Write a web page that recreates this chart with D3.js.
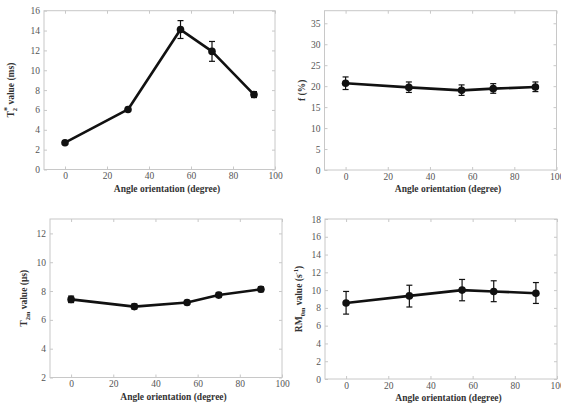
<!DOCTYPE html>
<html><head><meta charset="utf-8">
<script src="https://cdn.jsdelivr.net/npm/d3@7/dist/d3.min.js"></script>
<style>body{margin:0;background:#fff}svg{display:block}</style>
</head><body>
<svg id="c" width="561" height="407"></svg>
<script>
const angles = [0, 30, 55, 70, 90];
const xTicks = [0, 20, 40, 60, 80, 100];

const t2sMean = [2.7, 6.05, 14.1, 11.9, 7.55];
const t2sLow  = [2.55, 5.85, 13.2, 10.9, 7.25];
const t2sHigh = [2.85, 6.25, 15.0, 12.9, 7.85];
const t2sTicks = [0, 2, 4, 6, 8, 10, 12, 14, 16];

const fMean = [20.7, 19.7, 19.0, 19.4, 19.8];
const fLow  = [19.2, 18.5, 17.8, 18.3, 18.7];
const fHigh = [22.2, 21.0, 20.3, 20.6, 21.0];
const fTicks = [0, 5, 10, 15, 20, 25, 30, 35];

const t2mMean = [7.42, 6.92, 7.2, 7.72, 8.12];
const t2mLow  = [7.2, 6.75, 7.05, 7.55, 7.95];
const t2mHigh = [7.65, 7.1, 7.35, 7.9, 8.3];
const t2mTicks = [2, 4, 6, 8, 10, 12];

const rmMean = [8.55, 9.35, 10.0, 9.85, 9.65];
const rmLow  = [7.3, 8.1, 8.8, 8.7, 8.5];
const rmHigh = [9.85, 10.55, 11.2, 11.05, 10.85];
const rmTicks = [0, 2, 4, 6, 8, 10, 12, 14, 16, 18];

const svg = d3.select("#c");
const serif = "'Liberation Serif','Times New Roman',serif";

function panel(o) {
  const x = d3.scaleLinear().domain([-10, 100]).range([o.l, o.r]);
  const y = d3.scaleLinear().domain(o.yDom).range([o.b, o.t]);
  const g = svg.append("g");
  g.append("rect").attr("x", o.l).attr("y", o.t).attr("width", o.r - o.l).attr("height", o.b - o.t)
    .attr("fill", "none").attr("stroke", "#c8c8c8").attr("stroke-width", 1);
  const ax = g.append("g").attr("transform", `translate(0,${o.b})`)
    .call(d3.axisBottom(x).tickValues(xTicks).tickSize(-3).tickPadding(3).tickFormat(d3.format("d")));
  const axT = g.append("g").attr("transform", `translate(0,${o.t})`)
    .call(d3.axisTop(x).tickValues(xTicks).tickSize(-3).tickFormat(""));
  const ay = g.append("g").attr("transform", `translate(${o.l},0)`)
    .call(d3.axisLeft(y).tickValues(o.yTicks).tickSize(-3).tickPadding(4).tickFormat(d3.format("d")));
  const ayR = g.append("g").attr("transform", `translate(${o.r},0)`)
    .call(d3.axisRight(y).tickValues(o.yTicks).tickSize(-3).tickFormat(""));
  [ax, axT, ay, ayR].forEach(a => {
    a.select(".domain").remove();
    a.selectAll(".tick line").attr("stroke", "#c8c8c8");
    a.selectAll(".tick text").attr("fill", "#555").attr("font-family", serif).attr("font-size", 9.5);
  });
  g.append("text").attr("x", (x(0) + x(100)) / 2 - 3).attr("y", o.b + 22)
    .attr("text-anchor", "middle").attr("font-family", serif).attr("font-weight", "bold")
    .attr("font-size", 9.5).attr("fill", "#333").text("Angle orientation (degree)");
  const yl = g.append("text").attr("transform", `translate(${o.ylx},${(o.t + o.b) / 2}) rotate(-90)`)
    .attr("text-anchor", "middle").attr("font-family", serif).attr("font-weight", "bold")
    .attr("font-size", 9.5).attr("fill", "#333");
  o.label(yl);
  const eb = g.append("g").attr("stroke", "#111").attr("stroke-width", 1.2);
  angles.forEach((a, i) => {
    const cx = x(a);
    eb.append("line").attr("x1", cx).attr("x2", cx).attr("y1", y(o.lo[i])).attr("y2", y(o.hi[i]));
    eb.append("line").attr("x1", cx - 3).attr("x2", cx + 3).attr("y1", y(o.lo[i])).attr("y2", y(o.lo[i]));
    eb.append("line").attr("x1", cx - 3).attr("x2", cx + 3).attr("y1", y(o.hi[i])).attr("y2", y(o.hi[i]));
  });
  const line = d3.line().x((d, i) => x(angles[i])).y(d => y(d));
  g.append("path").datum(o.mean).attr("d", line).attr("fill", "none")
    .attr("stroke", "#111").attr("stroke-width", 2.6).attr("stroke-linejoin", "round");
  g.selectAll("circle.m").data(o.mean).enter().append("circle")
    .attr("cx", (d, i) => x(angles[i])).attr("cy", d => y(d)).attr("r", 3.8).attr("fill", "#111");
}

panel({l: 44, r: 275, t: 10.7, b: 169.5, yDom: [0, 16], yTicks: t2sTicks, ylx: 14,
  mean: t2sMean, lo: t2sLow, hi: t2sHigh,
  label: t => { t.append("tspan").text("T");
    t.append("tspan").attr("font-size", 6.5).attr("dy", 2.5).text("2");
    t.append("tspan").attr("font-size", 8).attr("dx", -3).attr("dy", -7).text("*");
    t.append("tspan").attr("dy", 4.5).text(" value (ms)"); }});

panel({l: 324.5, r: 556.5, t: 10.7, b: 170, yDom: [0, 38], yTicks: fTicks, ylx: 305,
  mean: fMean, lo: fLow, hi: fHigh,
  label: t => t.text("f (%)")});

panel({l: 50, r: 282, t: 219, b: 377.5, yDom: [2, 13], yTicks: t2mTicks, ylx: 27,
  mean: t2mMean, lo: t2mLow, hi: t2mHigh,
  label: t => { t.append("tspan").text("T");
    t.append("tspan").attr("font-size", 6.5).attr("dy", 2.5).text("2m");
    t.append("tspan").attr("dy", -2.5).text(" value (μs)"); }});

panel({l: 325, r: 557, t: 219, b: 379, yDom: [0, 18], yTicks: rmTicks, ylx: 302,
  mean: rmMean, lo: rmLow, hi: rmHigh,
  label: t => { t.append("tspan").text("RM");
    t.append("tspan").attr("font-size", 6.5).attr("dy", 2.5).text("0m");
    t.append("tspan").attr("dy", -2.5).text(" value (s");
    t.append("tspan").attr("font-size", 6.5).attr("dy", -4).text("-1");
    t.append("tspan").attr("dy", 4).text(")"); }});
</script>
</body></html>
